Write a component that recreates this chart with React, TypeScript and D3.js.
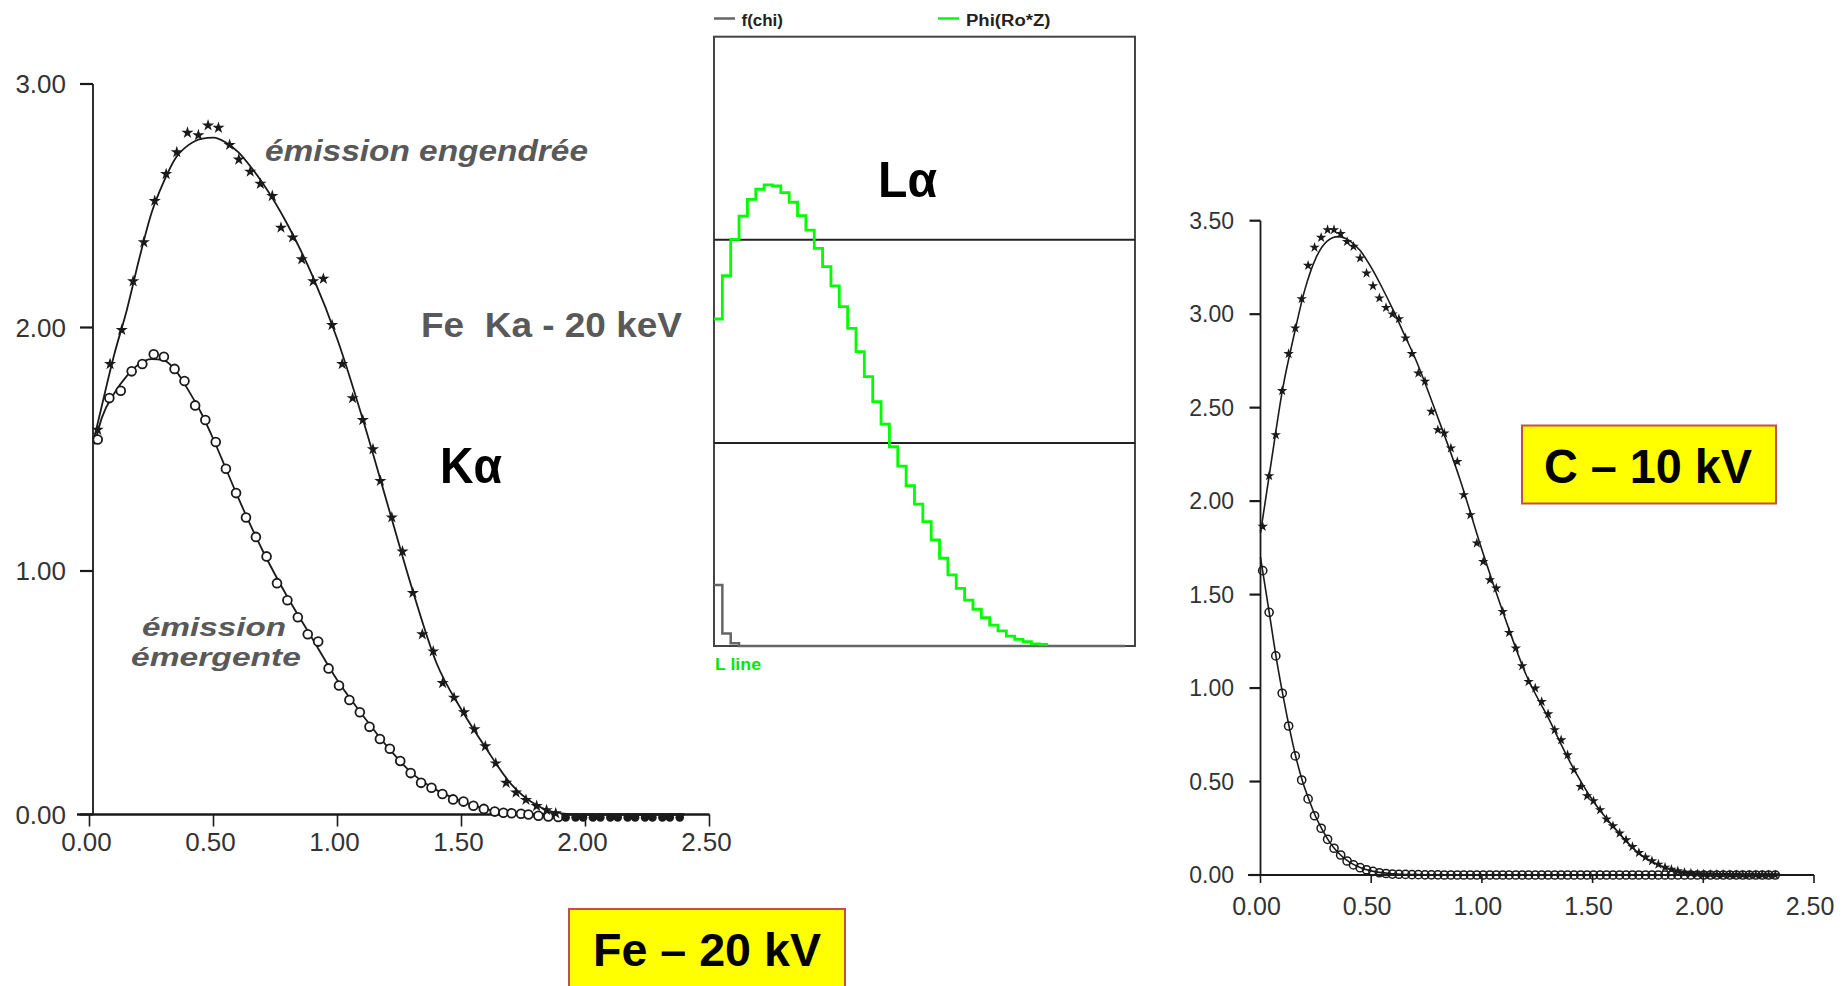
import React from 'react';
import * as d3 from 'd3';

// ---------- Left chart (Fe – 20 kV, Kα) ----------
const depthGenL = [
  0.033, 0.083, 0.13, 0.176, 0.219, 0.263, 0.309, 0.352, 0.395, 0.439,
  0.478, 0.52, 0.565, 0.602, 0.648, 0.689, 0.737, 0.772, 0.819, 0.856,
  0.902, 0.943, 0.978, 1.019, 1.061, 1.102, 1.143, 1.173, 1.219, 1.262,
  1.304, 1.342, 1.386, 1.424, 1.47, 1.51, 1.552, 1.596, 1.638, 1.68,
  1.72, 1.76, 1.803, 1.843, 1.88, 1.92, 1.96, 1.99, 2.03, 2.06,
  2.10, 2.13, 2.17, 2.20, 2.24, 2.27, 2.31, 2.34, 2.38,
];
const generatedL = [
  1.58, 1.85, 1.99, 2.19, 2.35, 2.52, 2.63, 2.72, 2.80, 2.79,
  2.83, 2.82, 2.75, 2.69, 2.64, 2.59, 2.54, 2.41, 2.37, 2.28,
  2.19, 2.20, 2.01, 1.85, 1.71, 1.62, 1.50, 1.37, 1.22, 1.08,
  0.91, 0.74, 0.67, 0.54, 0.48, 0.42, 0.35, 0.28, 0.21, 0.13,
  0.09, 0.06, 0.035, 0.018, 0.005, -0.012, -0.012, -0.012, -0.012, -0.012,
  -0.012, -0.012, -0.012, -0.012, -0.012, -0.012, -0.012, -0.012, -0.012,
];
const depthEmL = [
  0.033, 0.08, 0.126, 0.17, 0.213, 0.259, 0.30, 0.343, 0.383, 0.426,
  0.467, 0.509, 0.55, 0.591, 0.631, 0.671, 0.714, 0.756, 0.798, 0.84,
  0.88, 0.922, 0.964, 1.006, 1.048, 1.09, 1.129, 1.171, 1.211, 1.253,
  1.295, 1.337, 1.379, 1.423, 1.466, 1.508, 1.548, 1.59, 1.634, 1.669,
  1.702, 1.74, 1.77, 1.81, 1.85, 1.89,
];
const emergentL = [
  1.54, 1.71, 1.74, 1.82, 1.85, 1.89, 1.88, 1.83, 1.78, 1.68,
  1.62, 1.53, 1.42, 1.32, 1.22, 1.14, 1.06, 0.95, 0.88, 0.81,
  0.74, 0.71, 0.60, 0.53, 0.47, 0.42, 0.36, 0.31, 0.27, 0.22,
  0.17, 0.13, 0.11, 0.084, 0.062, 0.053, 0.036, 0.023, 0.012, 0.007,
  0.005, 0.003, 0.0, -0.005, -0.008, -0.01,
];
const fitGenX_L = [0.02, 0.05, 0.1, 0.15, 0.2, 0.25, 0.3, 0.35, 0.4, 0.45, 0.5, 0.55, 0.6, 0.65, 0.7, 0.8, 0.9, 1.0, 1.1, 1.2, 1.3, 1.4, 1.5, 1.6, 1.7, 1.8, 1.9, 2.0, 2.4];
const fitGenY_L = [1.55, 1.68, 1.89, 2.07, 2.28, 2.47, 2.60, 2.70, 2.75, 2.775, 2.78, 2.76, 2.72, 2.66, 2.59, 2.42, 2.21, 1.95, 1.63, 1.28, 0.93, 0.62, 0.43, 0.27, 0.125, 0.04, 0.005, 0, 0];
const fitEmX_L = [0.02, 0.05, 0.1, 0.15, 0.2, 0.25, 0.3, 0.35, 0.4, 0.45, 0.5, 0.55, 0.6, 0.7, 0.8, 0.9, 1.0, 1.1, 1.2, 1.3, 1.4, 1.5, 1.6, 1.7, 1.8, 2.4];
const fitEmY_L = [1.52, 1.63, 1.73, 1.80, 1.85, 1.87, 1.865, 1.82, 1.74, 1.65, 1.54, 1.42, 1.30, 1.08, 0.89, 0.72, 0.55, 0.41, 0.28, 0.17, 0.10, 0.055, 0.022, 0.006, 0, 0];
const ticksXL = [0, 0.5, 1.0, 1.5, 2.0, 2.5];
const ticksYL = [0, 1, 2, 3];

// ---------- Middle chart (Lα step histogram) ----------
const phiRoZ = [
  1.61, 1.823, 2.002, 2.117, 2.199, 2.249, 2.270, 2.265, 2.232, 2.185,
  2.119, 2.048, 1.958, 1.868, 1.773, 1.671, 1.564, 1.449, 1.326, 1.203,
  1.092, 0.981, 0.886, 0.789, 0.699, 0.612, 0.522, 0.432, 0.350, 0.284,
  0.226, 0.181, 0.139, 0.103, 0.074, 0.049, 0.033, 0.021, 0.010, 0.008,
];
const fChi = [0.30, 0.062, 0.013, 0];
const fChiEndBin = 49.2;
const gridLevelsM = [1, 2];

// ---------- Right chart (C – 10 kV) ----------
const depthR = [
  0.010, 0.039, 0.069, 0.098, 0.127, 0.157, 0.186, 0.215, 0.244, 0.274,
  0.303, 0.332, 0.362, 0.391, 0.420, 0.450, 0.479, 0.508, 0.537, 0.567,
  0.596, 0.625, 0.655, 0.684, 0.713, 0.743, 0.772, 0.801, 0.830, 0.860,
  0.889, 0.918, 0.948, 0.977, 1.006, 1.036, 1.065, 1.094, 1.123, 1.153,
  1.182, 1.211, 1.241, 1.270, 1.299, 1.329, 1.358, 1.387, 1.416, 1.446,
  1.475, 1.504, 1.534, 1.563, 1.592, 1.622, 1.651, 1.680, 1.709, 1.739,
  1.768, 1.797, 1.827, 1.856, 1.885, 1.915, 1.944, 1.973, 2.002, 2.032,
  2.061, 2.090, 2.120, 2.149, 2.178, 2.208, 2.237, 2.266, 2.295, 2.325,
];
const generatedR = [
  1.864, 2.135, 2.354, 2.59, 2.788, 2.925, 3.082, 3.26, 3.357, 3.41,
  3.451, 3.451, 3.43, 3.388, 3.362, 3.30, 3.219, 3.151, 3.086, 3.035,
  3.0, 2.975, 2.872, 2.788, 2.684, 2.64, 2.479, 2.381, 2.363, 2.283,
  2.211, 2.033, 1.926, 1.775, 1.676, 1.578, 1.534, 1.409, 1.296, 1.213,
  1.118, 1.034, 0.999, 0.927, 0.861, 0.776, 0.722, 0.642, 0.562, 0.472,
  0.423, 0.396, 0.348, 0.298, 0.262, 0.223, 0.187, 0.151, 0.119, 0.095,
  0.075, 0.057, 0.041, 0.030, 0.021, 0.014, 0.009, 0.006, 0.004, 0.003,
  0.002, 0.002, 0.001, 0.001, 0, 0, 0, 0, 0, 0,
];
const emergentR = [
  1.628, 1.405, 1.172, 0.972, 0.797, 0.637, 0.508, 0.407, 0.317, 0.25,
  0.191, 0.143, 0.107, 0.075, 0.054, 0.039, 0.028, 0.019, 0.012, 0.008,
  0.005, 0.004, 0.003, 0.002, 0.002, 0.001, 0.001, 0.001, 0, 0,
  0, 0, 0, 0, 0, 0, 0, 0, 0, 0,
  0, 0, 0, 0, 0, 0, 0, 0, 0, 0,
  0, 0, 0, 0, 0, 0, 0, 0, 0, 0,
  0, 0, 0, 0, 0, 0, 0, 0, 0, 0,
  0, 0, 0, 0, 0, 0, 0, 0, 0, 0,
];
const fitGenX_R = [0, 0.05, 0.1, 0.15, 0.2, 0.25, 0.3, 0.35, 0.4, 0.45, 0.5, 0.55, 0.6, 0.65, 0.7, 0.8, 0.9, 1.0, 1.1, 1.2, 1.3, 1.4, 1.5, 1.6, 1.7, 1.8, 1.9, 2.0, 2.33];
const fitGenY_R = [1.83, 2.22, 2.60, 2.88, 3.13, 3.30, 3.39, 3.415, 3.395, 3.34, 3.25, 3.14, 3.02, 2.89, 2.76, 2.45, 2.12, 1.74, 1.39, 1.07, 0.84, 0.60, 0.40, 0.25, 0.125, 0.052, 0.016, 0.003, 0];
const fitEmX_R = [0, 0.04, 0.07, 0.1, 0.13, 0.16, 0.19, 0.22, 0.25, 0.28, 0.31, 0.35, 0.4, 0.45, 0.5, 0.6, 0.7, 0.8, 2.33];
const fitEmY_R = [1.70, 1.40, 1.17, 0.97, 0.79, 0.63, 0.50, 0.40, 0.31, 0.24, 0.18, 0.12, 0.07, 0.04, 0.022, 0.007, 0.002, 0, 0];
const ticksXR = [0, 0.5, 1.0, 1.5, 2.0, 2.5];
const ticksYR = [0, 0.5, 1.0, 1.5, 2.0, 2.5, 3.0, 3.5];

const fmt = d3.format('.2f');
const SCAN = '#1a1a1a';
const GREYTXT = '#595959';
const AXISFONT = '"Liberation Sans", Arial, sans-serif';
const LABELFONT = "Arial, 'Liberation Sans', sans-serif";

export default function App() {
  const xL = d3.scaleLinear().domain([0, 2.5]).range([89.5, 709.5]);
  const yL = d3.scaleLinear().domain([0, 3]).range([814.5, 84]);
  const xR = d3.scaleLinear().domain([0, 2.5]).range([1260.5, 1814]);
  const yR = d3.scaleLinear().domain([0, 3.5]).range([875, 220.7]);
  const xM = d3.scaleLinear().domain([0, 50.4]).range([714, 1135]);
  const yM = d3.scaleLinear().domain([0, 3]).range([646, 36.7]);

  const lineL = d3.line<[number, number]>().x(d => xL(d[0])).y(d => yL(d[1])).curve(d3.curveMonotoneX);
  const lineR = d3.line<[number, number]>().x(d => xR(d[0])).y(d => yR(d[1])).curve(d3.curveMonotoneX);
  const stepM = d3.line<[number, number]>().x(d => xM(d[0])).y(d => yM(d[1])).curve(d3.curveStepAfter);

  const zip = (xs: number[], ys: number[]) => ys.map((y, i) => [xs[i], y] as [number, number]);

  const phiPts: [number, number][] = phiRoZ.map((v, i) => [i, v] as [number, number]);
  phiPts.push([phiRoZ.length, phiRoZ[phiRoZ.length - 1]]);
  const chiPts: [number, number][] = fChi.map((v, i) => [i, v] as [number, number]);
  chiPts.push([fChiEndBin, fChi[fChi.length - 1]]);

  const starL = d3.symbol().type(d3.symbolStar).size(46)() as string;
  const starR = d3.symbol().type(d3.symbolStar).size(34)() as string;

  return (
    <svg width={1845} height={986} style={{ position: 'absolute', left: 0, top: 0, background: '#fff' }}>
      <rect x={0} y={0} width={1845} height={986} fill="#fff" />

      {/* ================= LEFT CHART ================= */}
      <g>
        <line x1={93} x2={93} y1={yL(3)} y2={yL(0)} stroke={SCAN} strokeWidth={1.8} />
        {ticksYL.map(t => (
          <g key={'yl' + t}>
            <line x1={80} x2={93} y1={yL(t)} y2={yL(t)} stroke={SCAN} strokeWidth={2.2} />
            <text x={66} y={yL(t)} dy="0.36em" textAnchor="end" fontFamily={AXISFONT} fontSize={26} fill="#333">{fmt(t)}</text>
          </g>
        ))}
        <line x1={77} x2={xL(2.5)} y1={yL(0)} y2={yL(0)} stroke={SCAN} strokeWidth={2.5} />
        {ticksXL.map(t => (
          <g key={'xl' + t}>
            <line x1={xL(t)} x2={xL(t)} y1={yL(0)} y2={yL(0) + 12} stroke={SCAN} strokeWidth={1.6} />
            <text x={xL(t) - 3} y={851} textAnchor="middle" fontFamily={AXISFONT} fontSize={26} fill="#333">{fmt(t)}</text>
          </g>
        ))}
        <path d={lineL(zip(fitGenX_L, fitGenY_L)) || ''} fill="none" stroke={SCAN} strokeWidth={1.8} />
        <path d={lineL(zip(fitEmX_L, fitEmY_L)) || ''} fill="none" stroke={SCAN} strokeWidth={1.8} />
        {emergentL.map((v, i) => (
          <circle key={'el' + i} cx={xL(depthEmL[i])} cy={yL(v)} r={4.4} fill="#fff" stroke={SCAN} strokeWidth={1.8} />
        ))}
        {generatedL.map((v, i) => (
          v <= 0 ? (
            <circle key={'gd' + i} cx={xL(depthGenL[i])} cy={yL(v)} r={4.3} fill={SCAN} />
          ) : (
            <path key={'gl' + i} d={starL} transform={`translate(${xL(depthGenL[i])},${yL(v)})`} fill={SCAN} />
          )
        ))}
        <text x={265} y={161} fontFamily={LABELFONT} fontWeight="bold" fontStyle="italic" fontSize={30} fill={GREYTXT} textLength={323} lengthAdjust="spacingAndGlyphs">émission engendrée</text>
        <text x={421} y={336.5} fontFamily={LABELFONT} fontWeight="bold" fontSize={35} fill={GREYTXT} textLength={261} lengthAdjust="spacingAndGlyphs" style={{ whiteSpace: 'pre' }}>Fe  Ka - 20 keV</text>
        <text x={440} y={483} fontFamily={LABELFONT} fontWeight="bold" fontSize={50} fill="#000" textLength={62} lengthAdjust="spacingAndGlyphs">Kα</text>
        <text x={214} y={636} textAnchor="middle" fontFamily={LABELFONT} fontWeight="bold" fontStyle="italic" fontSize={26} fill={GREYTXT} textLength={144} lengthAdjust="spacingAndGlyphs">émission</text>
        <text x={216} y={665.5} textAnchor="middle" fontFamily={LABELFONT} fontWeight="bold" fontStyle="italic" fontSize={26} fill={GREYTXT} textLength={170} lengthAdjust="spacingAndGlyphs">émergente</text>
        <rect x={569} y={909} width={276} height={84} fill="#ffff00" stroke="#c0504d" strokeWidth={2} />
        <text x={707} y={966} textAnchor="middle" fontFamily={LABELFONT} fontWeight="bold" fontSize={46} fill="#000" textLength={228} lengthAdjust="spacingAndGlyphs">Fe – 20 kV</text>
      </g>

      {/* ================= MIDDLE CHART ================= */}
      <g>
        <line x1={714} x2={735} y1={18.5} y2={18.5} stroke="#666" strokeWidth={2.5} />
        <text x={741.5} y={26} fontFamily={LABELFONT} fontWeight="bold" fontSize={16} fill="#222" textLength={41.5} lengthAdjust="spacingAndGlyphs">f(chi)</text>
        <line x1={938} x2={959} y1={18.5} y2={18.5} stroke="#00ff00" strokeWidth={2.5} />
        <text x={966} y={26} fontFamily={LABELFONT} fontWeight="bold" fontSize={16} fill="#222" textLength={84.5} lengthAdjust="spacingAndGlyphs">Phi(Ro*Z)</text>
        <rect x={xM(0)} y={yM(3)} width={xM(50.4) - xM(0)} height={yM(0) - yM(3)} fill="none" stroke="#444" strokeWidth={2} />
        {gridLevelsM.map(g => (
          <line key={'gm' + g} x1={xM(0)} x2={xM(50.4)} y1={yM(g)} y2={yM(g)} stroke="#222" strokeWidth={2} />
        ))}
        <path d={stepM(chiPts) || ''} fill="none" stroke="#666" strokeWidth={2.5} />
        <path d={stepM(phiPts) || ''} fill="none" stroke="#00ff00" strokeWidth={2.8} />
        <text x={878} y={197} fontFamily={LABELFONT} fontWeight="bold" fontSize={50} fill="#000" textLength={59} lengthAdjust="spacingAndGlyphs">Lα</text>
        <text x={715} y={670} fontFamily={LABELFONT} fontWeight="bold" fontSize={16} fill="#00e600" textLength={46} lengthAdjust="spacingAndGlyphs">L line</text>
      </g>

      {/* ================= RIGHT CHART ================= */}
      <g>
        <line x1={xR(0)} x2={xR(0)} y1={yR(3.5)} y2={yR(0)} stroke={SCAN} strokeWidth={1.8} />
        {ticksYR.map(t => (
          <g key={'yr' + t}>
            <line x1={1249.5} x2={xR(0)} y1={yR(t)} y2={yR(t)} stroke={SCAN} strokeWidth={2.2} />
            <text x={1234} y={yR(t)} dy="0.36em" textAnchor="end" fontFamily={AXISFONT} fontSize={23} fill="#333">{fmt(t)}</text>
          </g>
        ))}
        <line x1={1248} x2={xR(2.5)} y1={yR(0)} y2={yR(0)} stroke={SCAN} strokeWidth={2.2} />
        {ticksXR.map(t => (
          <g key={'xr' + t}>
            <line x1={xR(t)} x2={xR(t)} y1={yR(0)} y2={yR(0) + 8} stroke={SCAN} strokeWidth={1.6} />
            <text x={xR(t) - 4} y={915} textAnchor="middle" fontFamily={AXISFONT} fontSize={25} fill="#333">{fmt(t)}</text>
          </g>
        ))}
        <path d={lineR(zip(fitGenX_R, fitGenY_R)) || ''} fill="none" stroke={SCAN} strokeWidth={1.6} />
        <path d={lineR(zip(fitEmX_R, fitEmY_R)) || ''} fill="none" stroke={SCAN} strokeWidth={1.6} />
        {emergentR.map((v, i) => (
          <circle key={'er' + i} cx={xR(depthR[i])} cy={yR(v)} r={4.1} fill="none" stroke={SCAN} strokeWidth={1.5} />
        ))}
        {generatedR.map((v, i) => (
          <path key={'gr' + i} d={starR} transform={`translate(${xR(depthR[i])},${yR(v)})`} fill={SCAN} />
        ))}
        <rect x={1522} y={425.5} width={254} height={78} fill="#ffff00" stroke="#c0504d" strokeWidth={2} />
        <text x={1648} y={483} textAnchor="middle" fontFamily={LABELFONT} fontWeight="bold" fontSize={48} fill="#000" textLength={208} lengthAdjust="spacingAndGlyphs">C – 10 kV</text>
      </g>
    </svg>
  );
}
